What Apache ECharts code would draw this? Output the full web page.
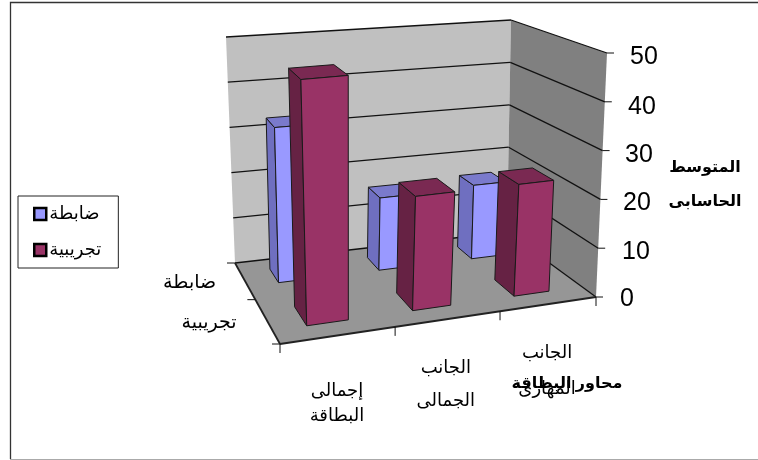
<!DOCTYPE html>
<html><head><meta charset="utf-8">
<style>html,body{margin:0;padding:0;background:#fff}#c{width:758px;height:460px}</style>
<script src="https://cdn.jsdelivr.net/npm/echarts@6/dist/echarts.min.js"></script>
</head><body><div id="c"></div>
<script>
var categories = ['إجمالى البطاقة', 'الجانب الجمالى', 'الجانب المهارى'];
var categoryLines = [['إجمالى','البطاقة'], ['الجانب','الجمالى'], ['الجانب','المهارى']];
var seriesNames = ['ضابطة', 'تجريبية'];
var control = [33, 15.7, 16.3];
var experimental = [48.6, 23, 23];
var valueTicks = [0, 10, 20, 30, 40, 50];
var yTitleLines = ['المتوسط', 'الحاسابى'];
var xTitle = 'محاور البطاقة';

var FONT = 'Liberation Sans, DejaVu Sans, Noto Sans, sans-serif';
// perspective frame of the 3D box, [x, y] of the corners
var floorQuad = {fl:[280,344], fr:[596,297], br:[507,232], bl:[235,263]};
var topQuad   = {fl:[268,84],  fr:[607,53],  br:[511,20],  bl:[226,37]};
var rowSpan = [[0.67,0.86],[0.14,0.36]];   // depth extent of each series row (0 = front)
var barFill = 0.37;                        // share of the category band used by a bar
var barShift = [[-0.009,-0.009,-0.009],[-0.007,-0.018,-0.014]];
var rowLabelOffset = [[-54.5,3],[-58,2.5]];
var catLabelOffset = [[-2,56,81],[-3,49,82],[-2,49,85]]; // dx, line 1 dy, line 2 dy

function homography(q){
  var x0=q.fl[0],y0=q.fl[1],x1=q.fr[0],y1=q.fr[1],x2=q.br[0],y2=q.br[1],x3=q.bl[0],y3=q.bl[1];
  var dx1=x1-x2,dx2=x3-x2,dx3=x0-x1+x2-x3,dy1=y1-y2,dy2=y3-y2,dy3=y0-y1+y2-y3;
  var den=dx1*dy2-dx2*dy1;
  var g=(dx3*dy2-dx2*dy3)/den,h=(dx1*dy3-dx3*dy1)/den;
  var a=x1-x0+g*x1,b=x3-x0+h*x3,d=y1-y0+g*y1,e=y3-y0+h*y3;
  return function(s,t){var w=g*s+h*t+1;return [(a*s+b*t+x0)/w,(d*s+e*t+y0)/w];};
}
var floorH=homography(floorQuad), topH=homography(topQuad);
function P(s,t,r){var f=floorH(s,t),u=topH(s,t);return [f[0]+(u[0]-f[0])*r,f[1]+(u[1]-f[1])*r];}
function heightOf(api,v){var y0=api.coord([0,0])[1],y1=api.coord([0,50])[1],y=api.coord([0,v])[1];return (y0-y)/(y0-y1);}
function sOf(api,i){var p=api.coord([i,0])[0],a=api.coord([0,0])[0],b=api.coord([categories.length-1,0])[0];var step=(b-a)/(categories.length-1);return (p-a+step/2)/(step*categories.length);}
function poly(pts,fill){return {type:'polygon',shape:{points:pts},style:{fill:fill}};}
function line(a,b,c,w){return {type:'line',shape:{x1:a[0],y1:a[1],x2:b[0],y2:b[1]},style:{stroke:c||'#111',lineWidth:w||1.3}};}
function label(text,x,y,font){return {type:'text',style:{text:text,x:x,y:y,align:'center',verticalAlign:'middle',font:font+' '+FONT,fill:'#000'}};}

function renderFrame(params,api){
  var kids=[];
  kids.push(poly([P(0,1,0),P(1,1,0),P(1,1,1),P(0,1,1)],'#c0c0c0'));
  kids.push(poly([P(1,1,0),P(1,0,0),P(1,0,1),P(1,1,1)],'#808080'));
  kids.push(poly([P(0,0,0),P(1,0,0),P(1,1,0),P(0,1,0)],'#969696'));
  valueTicks.forEach(function(v){
    var r=heightOf(api,v);
    kids.push(line(P(0,1,r),P(1,1,r)));
    kids.push(line(P(1,1,r),P(1,0,r)));
    var e=P(1,0,r);
    kids.push(line(e,[e[0]+7,e[1]],'#111',1));
  });
  kids.push(line(P(0,0,0),P(0,1,0),'#222',1.8));
  kids.push(line(P(0,0,0),P(1,0,0),'#222',1.8));
  for(var i=0;i<=categories.length;i++){
    var p=P(i/categories.length,0,0);
    kids.push(line(p,[p[0],p[1]+9],'#111',1));
  }
  for(var k=0;k<=seriesNames.length;k++){
    var q=P(0,k/seriesNames.length,0);
    kids.push(line(q,[q[0]-8,q[1]],'#111',1));
  }
  seriesNames.forEach(function(n,idx){
    var t=(rowSpan[idx][0]+rowSpan[idx][1])/2, a=P(0,t,0);
    kids.push(label(n,a[0]+rowLabelOffset[idx][0],a[1]+rowLabelOffset[idx][1],'19px'));
  });
  categoryLines.forEach(function(l,i){
    var e=P(sOf(api,i),0,0),o=catLabelOffset[i];
    kids.push(label(l[0],e[0]+o[0],e[1]+o[1],'18px'));
    kids.push(label(l[1],e[0]+o[0],e[1]+o[2],'18px'));
  });
  kids.push(label(yTitleLines[0],705,168,'bold 16px'));
  kids.push(label(yTitleLines[1],705,202,'bold 16px'));
  return {type:'group',children:kids};
}
function barRenderer(row,front,side,top){
  return function(params,api){
    var i=api.value(0),r=heightOf(api,api.value(1)),c=sOf(api,i)+barShift[row][i],w=barFill/categories.length/2;
    var s0=c-w,s1=c+w,t0=rowSpan[row][0],t1=rowSpan[row][1];
    var mk=function(pts,f){return {type:'polygon',shape:{points:pts},style:{fill:f,stroke:'#1a1a1a',lineWidth:1}};};
    return {type:'group',children:[
      mk([P(s0,t0,0),P(s0,t1,0),P(s0,t1,r),P(s0,t0,r)],side),
      mk([P(s0,t0,r),P(s1,t0,r),P(s1,t1,r),P(s0,t1,r)],top),
      mk([P(s0,t0,0),P(s1,t0,0),P(s1,t0,r),P(s0,t0,r)],front)
    ]};
  };
}
function rows(vals){return vals.map(function(v,i){return [i,v];});}

var yPad={0:[4,0],10:[8,2],20:[8,3],30:[10,5],40:[10,8],50:[8,10]}, yRich={};
valueTicks.forEach(function(v){yRich['t'+v]={padding:[yPad[v][0],0,0,yPad[v][1]],fontSize:25,fontFamily:FONT,color:'#000'};});

var chart=echarts.init(document.getElementById('c'),null,{renderer:'canvas'});
chart.setOption({
  animation:false,
  backgroundColor:'#fff',
  graphic:[
    {type:'polyline',silent:true,shape:{points:[[758,2.5],[10.5,2.5],[10.5,459]]},style:{fill:null,stroke:'#333',lineWidth:1.3}},
    {type:'line',silent:true,shape:{x1:10,y1:459.5,x2:758,y2:459.5},style:{stroke:'#aaa',lineWidth:1}}
  ],
  grid:{left:280,right:162,top:53,bottom:163,containLabel:false},
  legend:{
    orient:'vertical',left:18,top:196,align:'left',itemGap:18,itemWidth:12,itemHeight:12,
    padding:[9,17,9,15],borderColor:'#222',borderWidth:1,icon:'rect',
    itemStyle:{borderColor:'#000',borderWidth:2.5},
    textStyle:{fontSize:18,fontFamily:FONT,color:'#000',padding:[0,0,0,-2]},
    data:seriesNames
  },
  xAxis:{type:'category',data:categories,position:'bottom',
    axisLine:{show:false},axisTick:{show:false},splitLine:{show:false},axisLabel:{show:false},
    name:xTitle,nameLocation:'middle',nameGap:79,nameTextStyle:{fontSize:16,fontWeight:'bold',fontFamily:FONT,color:'#000',padding:[0,0,0,258]}},
  yAxis:{type:'value',min:0,max:50,interval:10,position:'right',
    axisLine:{show:false},axisTick:{show:false},splitLine:{show:false},
    axisLabel:{margin:24,align:'left',formatter:function(v){return '{t'+v+'|'+v+'}';},rich:yRich}},
  series:[
    {type:'custom',name:'frame',silent:true,z:1,data:[[0,0]],encode:{x:0,y:1},renderItem:renderFrame,clip:false},
    {type:'custom',name:seriesNames[0],z:2,itemStyle:{color:'#9999ff'},data:rows(control),encode:{x:0,y:1},renderItem:barRenderer(0,'#9999ff','#6f6fc0','#7a7acc'),clip:false},
    {type:'custom',name:seriesNames[1],z:3,itemStyle:{color:'#993366'},data:rows(experimental),encode:{x:0,y:1},renderItem:barRenderer(1,'#993366','#662244','#7a2952'),clip:false}
  ]
});
</script></body></html>
